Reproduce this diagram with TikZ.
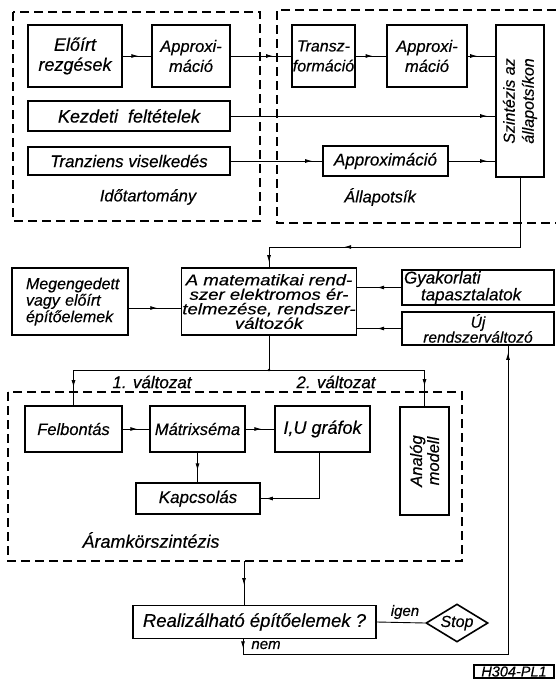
\documentclass[tikz,border=0pt]{standalone}
\usepackage{fontspec}
\setmainfont{Liberation Sans}[FakeBold=0.4]
\newfontfamily\widefont{Liberation Sans}[FakeStretch=1.2, FakeBold=0.4]
\usetikzlibrary{arrows.meta,decorations.markings,shapes.geometric,calc}
\tikzset{
  box/.style={draw, line width=1.6pt, inner sep=1pt, align=center, font=\itshape\fontsize{15}{18}\selectfont},
  dbox/.style={draw, line width=1.7pt, dash pattern=on 9pt off 5pt},
  conn/.style={line width=0.9pt},
  lbl/.style={font=\itshape\fontsize{16}{19}\selectfont, inner sep=0pt, align=center},
  arrat/.style={postaction={decorate}, decoration={markings, mark=at position #1 with {\arrow{Latex[length=7pt,width=4pt]}}}},
  arrtwo/.style 2 args={postaction={decorate}, decoration={markings,
     mark=at position #1 with {\arrow{Latex[length=7pt,width=4pt]}},
     mark=at position #2 with {\arrow{Latex[length=7pt,width=4pt]}}}},
}
\begin{document}
\begin{tikzpicture}[x=1pt,y=-1pt]
\useasboundingbox (0,0) rectangle (556,680);

% ---------- top left: Idotartomany ----------
\draw[dbox] (13,12) rectangle (260,221);
\node[box, minimum width=94pt, minimum height=62pt, font=\itshape\fontsize{18}{20}\selectfont] (elo) at (75,56) {Előírt\\rezgések};
\node[box, minimum width=78pt, minimum height=62pt, font=\itshape\fontsize{16.5}{20}\selectfont] (app1) at (191,56) {Approxi-\\máció};
\node[box, minimum width=202pt, minimum height=30pt, font=\itshape\fontsize{18}{19}\selectfont] (kezd) at (129,116) {Kezdeti \ feltételek};
\node[box, minimum width=202pt, minimum height=28pt, font=\itshape\fontsize{17}{19}\selectfont] (tran) at (129,161) {Tranziens viselkedés};
\node[lbl, font=\itshape\fontsize{16.5}{18}\selectfont] (ido) at (148,197) {Időtartomány};

% ---------- top right: Allapotsik ----------
\draw[dbox] (556,10) -| (277,223) -- (556,223);
\node[box, minimum width=63pt, minimum height=62pt, font=\itshape\fontsize{16}{20}\selectfont] (trans) at (323.5,56) {Transz-\\formáció};
\node[box, minimum width=80pt, minimum height=62pt, font=\itshape\fontsize{16.5}{20}\selectfont] (app2) at (427,56) {Approxi-\\máció};
\node[box, minimum width=48pt, minimum height=152pt] (szin) at (520,101) {};
\node[lbl, rotate=90, font=\itshape\fontsize{16}{19}\selectfont] (szint) at (szin.center) {Szintézis az\\állapotsíkon};
\node[box, minimum width=125pt, minimum height=30pt, font=\itshape\fontsize{17}{19}\selectfont] (app3) at (385.5,161) {Approximáció};
\node[lbl, font=\itshape\fontsize{16.5}{18}\selectfont] (all) at (380,197) {Állapotsík};

\draw[conn, arrat=0.55] (elo) -- (app1);
\draw[conn, arrat=-18pt] (app1) -- (trans);
\draw[conn, arrat=0.55] (trans) -- (app2);
\draw[conn, arrat=-18pt] (app2) -- (app2 -| szin.west);
\draw[conn, arrat=-8pt] (kezd.east) -- (kezd.east -| szin.west);
\draw[conn, arrat=-10pt] (tran.east) -- (app3.west);
\draw[conn, arrat=-8pt] (app3.east) -- (app3.east -| szin.west);

% ---------- middle ----------
\node[box, minimum width=116pt, minimum height=67pt, text width=88pt, align=left, font=\itshape\fontsize{16}{16.5}\selectfont] (meg) at (70,301.5) {Megengedett\\vagy előírt\\építőelemek};
\node[box, minimum width=172pt, minimum height=67pt, font=\widefont\itshape\fontsize{15.5}{14.5}\selectfont] (mat) at (269,301.5) {A matematikai rend-\\szer elektromos ér-\\telmezése, rendszer-\\változók};
\node[box, minimum width=152pt, minimum height=35pt, text width=148pt, align=left, font=\itshape\fontsize{17}{15.5}\selectfont] (gyak) at (478,287.5) {Gyakorlati\\\hspace*{1em}tapasztalatok};
\node[box, minimum width=152pt, minimum height=33pt, font=\itshape\fontsize{15.5}{15}\selectfont] (uj) at (478,328.5) {Új\\rendszerváltozó};

\coordinate (c1) at (520,247);
\draw[conn, arrtwo={0.72}{-5pt}] (szin.south) -- (c1) -- (c1 -| mat.north) -- (mat.north);
\draw[conn, arrat=0.55] ([yshift=-6.5pt]meg.east) -- ([yshift=-6.5pt]meg.east -| mat.west);
\draw[conn, arrat=0.55] (gyak.west) -- (gyak.west -| mat.east);
\draw[conn, arrat=0.55] (uj.west) -- (uj.west -| mat.east);

% ---------- Aramkorszintezis ----------
\draw[dbox] (8,392) rectangle (462,561);
\node[box, minimum width=97pt, minimum height=46pt, font=\itshape\fontsize{16.5}{19}\selectfont] (felb) at (73.5,429) {Felbontás};
\node[box, minimum width=95pt, minimum height=46pt, font=\itshape\fontsize{16.5}{19}\selectfont] (matr) at (197.5,429) {Mátrixséma};
\node[box, minimum width=95pt, minimum height=46pt, font=\itshape\fontsize{18}{19}\selectfont] (iu) at (322.5,429) {I,U gráfok};
\node[box, minimum width=124pt, minimum height=31pt, font=\itshape\fontsize{17}{19}\selectfont] (kapcs) at (198,498.5) {Kapcsolás};
\node[box, minimum width=49pt, minimum height=108pt] (anal) at (424.5,461) {};
\node[lbl, rotate=90, font=\itshape\fontsize{16.5}{17}\selectfont] (analt) at (anal.center) {Analóg\\modell};
\node[lbl, font=\itshape\fontsize{18}{19}\selectfont] (aram) at (151,540) {Áramkörszintézis};

\coordinate (split) at (269,370);
\draw[conn] (mat.south) -- (split);
\fill (split) circle (1.4pt);
\draw[conn, arrat=-18pt] (split) -| (felb.north);
\draw[conn, arrat=-20pt] (split) -| (anal.north);
\node[lbl, font=\itshape\fontsize{17}{17}\selectfont] (v1) at (152,382) {1. változat};
\node[lbl, font=\itshape\fontsize{17}{17}\selectfont] (v2) at (336,382) {2. változat};

\draw[conn, arrat=0.55] (felb) -- (matr);
\draw[conn, arrat=0.55] (matr) -- (iu);
\draw[conn, arrat=0.6] (matr.south) -- (kapcs.north -| matr.south);
\coordinate (iub) at (319,452);
\draw[conn, arrat=-5pt] (iub) |- (kapcs.east);

% ---------- bottom ----------
\node[box, minimum width=243pt, minimum height=33pt, font=\itshape\fontsize{18.5}{19}\selectfont] (real) at (254.5,622) {Realizálható építőelemek ?};
\node[draw, diamond, aspect=1.6, line width=1.6pt, minimum width=62pt, minimum height=38pt, inner sep=0pt, font=\itshape\fontsize{16}{17}\selectfont] (stop) at (457,623) {Stop};
\coordinate (cbot) at (244,561);
\draw[conn, arrat=0.55] (cbot) -- (cbot |- real.north);
\draw[conn] (real.east) -- (stop.west);
\node[lbl, font=\itshape\fontsize{15}{16}\selectfont] (igen) at (405,612) {igen};

\coordinate (n1) at (243,654);
\coordinate (n2) at (508,654);
\draw[conn, arrtwo={9pt}{-7pt}] (real.south -| n1) -- (n1) -- (n2) -- (n2 |- uj.south);
\node[lbl, font=\itshape\fontsize{15}{16}\selectfont] (nem) at (266,645) {nem};

\node[draw, line width=1.1pt, minimum width=80pt, minimum height=13pt, inner sep=0pt, font=\itshape\fontsize{14.5}{13}\selectfont] (code) at (514,671.5) {H304-PL1};
\end{tikzpicture}
\end{document}
